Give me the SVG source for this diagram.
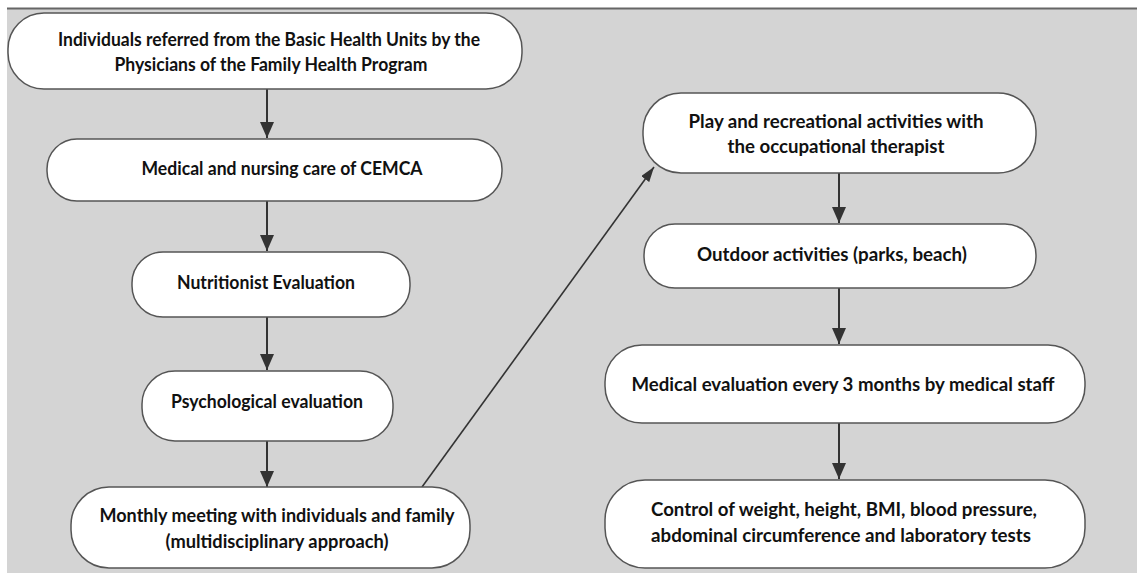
<svg xmlns="http://www.w3.org/2000/svg" width="1137" height="583" viewBox="0 0 1137 583">
<style>
.node rect{fill:#fff;stroke:#555;stroke-width:1.5}
.node text{font-family:Lato,"Liberation Sans",sans-serif;font-weight:bold;font-size:18px;fill:#111;text-anchor:middle}
.conn line{stroke:#333;stroke-width:2;marker-end:url(#ah)}
.conn line.diag{stroke-width:1.6;marker-end:url(#ah2)}
</style>
<defs>
<marker id="ah" viewBox="0 0 16 14" refX="16" refY="7" markerWidth="16" markerHeight="14" markerUnits="userSpaceOnUse" orient="auto">
<path d="M0,0 L16,7 L0,14 Z" fill="#333"/>
</marker>
<marker id="ah2" viewBox="0 0 15 10" refX="15" refY="5" markerWidth="15" markerHeight="10" markerUnits="userSpaceOnUse" orient="auto">
<path d="M0,0 L15,5 L0,10 Z" fill="#333"/>
</marker>
</defs>
<rect x="0" y="0" width="1137" height="583" fill="#fff"/>
<rect x="7" y="9" width="1130" height="564" fill="#d4d4d4"/>
<line x1="7" y1="8.5" x2="1137" y2="8.5" stroke="#666" stroke-width="2"/>
<g class="conn">
<line x1="267" y1="89" x2="267" y2="138"/>
<line x1="267" y1="201" x2="267" y2="251"/>
<line x1="267" y1="317" x2="267" y2="370"/>
<line x1="267" y1="441" x2="267" y2="487"/>
<line class="diag" x1="422" y1="487" x2="654" y2="167"/>
<line x1="839" y1="173" x2="839" y2="223"/>
<line x1="839" y1="288" x2="839" y2="344"/>
<line x1="839" y1="423" x2="839" y2="479"/>
</g>
<g id="n1" class="node"><rect x="8" y="13" width="514" height="76" rx="36"/>
<text x="269" y="46" textLength="422" lengthAdjust="spacingAndGlyphs">Individuals referred from the Basic Health Units by the</text>
<text x="271" y="71" textLength="313" lengthAdjust="spacingAndGlyphs">Physicians of the Family Health Program</text></g>
<g id="n2" class="node"><rect x="47" y="139" width="455" height="62" rx="30"/>
<text x="282" y="175" textLength="281" lengthAdjust="spacingAndGlyphs">Medical and nursing care of CEMCA</text></g>
<g id="n3" class="node"><rect x="132" y="252" width="278" height="65" rx="31"/>
<text x="266" y="289" textLength="178" lengthAdjust="spacingAndGlyphs">Nutritionist Evaluation</text></g>
<g id="n4" class="node"><rect x="142" y="371" width="251" height="70" rx="33"/>
<text x="267" y="408" textLength="192" lengthAdjust="spacingAndGlyphs">Psychological evaluation</text></g>
<g id="n5" class="node"><rect x="71" y="487" width="399" height="81" rx="38"/>
<text x="277" y="522" textLength="355" lengthAdjust="spacingAndGlyphs">Monthly meeting with individuals and family</text>
<text x="277" y="548" textLength="223" lengthAdjust="spacingAndGlyphs">(multidisciplinary approach)</text></g>
<g id="n6" class="node"><rect x="643" y="93" width="393" height="80" rx="38"/>
<text x="836" y="128" textLength="295" lengthAdjust="spacingAndGlyphs">Play and recreational activities with</text>
<text x="836" y="153" textLength="217" lengthAdjust="spacingAndGlyphs">the occupational therapist</text></g>
<g id="n7" class="node"><rect x="644" y="224" width="392" height="64" rx="31"/>
<text x="832" y="261" textLength="270" lengthAdjust="spacingAndGlyphs">Outdoor activities (parks, beach)</text></g>
<g id="n8" class="node"><rect x="605" y="345" width="480" height="78" rx="37"/>
<text x="843" y="391" textLength="423" lengthAdjust="spacingAndGlyphs">Medical evaluation every 3 months by medical staff</text></g>
<g id="n9" class="node"><rect x="605" y="480" width="480" height="88" rx="40"/>
<text x="844" y="516" textLength="386" lengthAdjust="spacingAndGlyphs">Control of weight, height, BMI, blood pressure,</text>
<text x="841" y="542" textLength="380" lengthAdjust="spacingAndGlyphs">abdominal circumference and laboratory tests</text></g>
</svg>
